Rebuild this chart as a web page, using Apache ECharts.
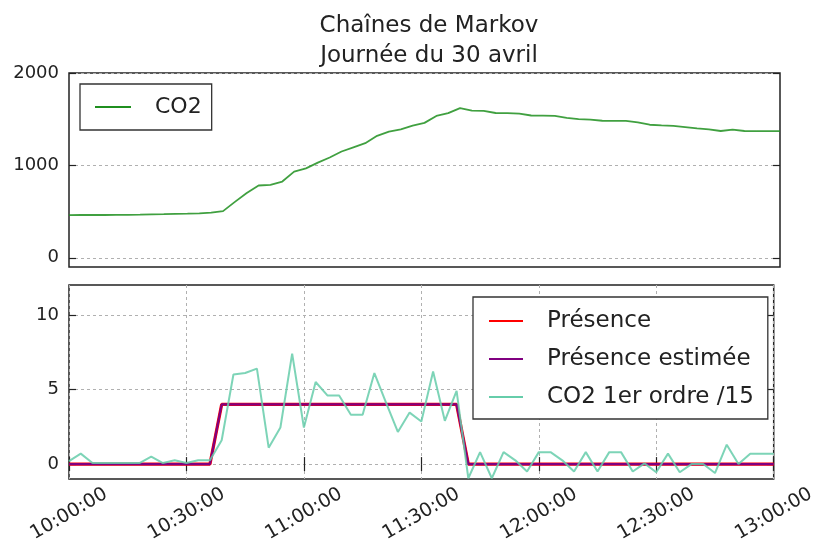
<!DOCTYPE html>
<html>
<head>
<meta charset="utf-8">
<script src="https://cdn.jsdelivr.net/npm/echarts@6/dist/echarts.min.js"></script>
<style>
  html, body { margin: 0; padding: 0; background: #fff; }
  #chart { width: 818px; height: 547px; }
</style>
</head>
<body>
<div id="chart"></div>
<script>
  // heures (pas de 3 min)
  const times = [
    '10:00:00', '10:03:00', '10:06:00', '10:09:00', '10:12:00', '10:15:00', '10:18:00', '10:21:00', '10:24:00', '10:27:00',
    '10:30:00', '10:33:00', '10:36:00', '10:39:00', '10:42:00', '10:45:00', '10:48:00', '10:51:00', '10:54:00', '10:57:00',
    '11:00:00', '11:03:00', '11:06:00', '11:09:00', '11:12:00', '11:15:00', '11:18:00', '11:21:00', '11:24:00', '11:27:00',
    '11:30:00', '11:33:00', '11:36:00', '11:39:00', '11:42:00', '11:45:00', '11:48:00', '11:51:00', '11:54:00', '11:57:00',
    '12:00:00', '12:03:00', '12:06:00', '12:09:00', '12:12:00', '12:15:00', '12:18:00', '12:21:00', '12:24:00', '12:27:00',
    '12:30:00', '12:33:00', '12:36:00', '12:39:00', '12:42:00', '12:45:00', '12:48:00', '12:51:00', '12:54:00', '12:57:00',
    '13:00:00'
  ]
  const co2 = [
    462, 463, 463, 463, 464, 465, 466, 470, 472, 475,
    477, 480, 488, 505, 605, 700, 782, 790, 825, 932,
    968, 1030, 1085, 1150, 1195, 1240, 1320, 1365, 1390, 1430,
    1460, 1535, 1565, 1620, 1592, 1590, 1567, 1566, 1560, 1540,
    1538, 1536, 1515, 1500, 1495, 1483, 1482, 1482, 1465, 1440,
    1432, 1428, 1415, 1400, 1390, 1372, 1386, 1372, 1371, 1370,
    1370
  ]
  const presence = [
    0, 0, 0, 0, 0, 0, 0, 0, 0, 0,
    0, 0, 0, 4, 4, 4, 4, 4, 4, 4,
    4, 4, 4, 4, 4, 4, 4, 4, 4, 4,
    4, 4, 4, 4, 0, 0, 0, 0, 0, 0,
    0, 0, 0, 0, 0, 0, 0, 0, 0, 0,
    0, 0, 0, 0, 0, 0, 0, 0, 0, 0,
    0
  ]
  const presenceEst = [
    0, 0, 0, 0, 0, 0, 0, 0, 0, 0,
    0, 0, 0, 4, 4, 4, 4, 4, 4, 4,
    4, 4, 4, 4, 4, 4, 4, 4, 4, 4,
    4, 4, 4, 4, 0, 0, 0, 0, 0, 0,
    0, 0, 0, 0, 0, 0, 0, 0, 0, 0,
    0, 0, 0, 0, 0, 0, 0, 0, 0, 0,
    0
  ]
  const co2Deriv = [
    0.2, 0.7, 0.07, 0.07, 0.07, 0.07, 0.07, 0.5, 0.07, 0.25,
    0.07, 0.25, 0.25, 1.6, 6.0, 6.1, 6.4, 1.1, 2.45, 7.4,
    2.45, 5.5, 4.6, 4.6, 3.3, 3.3, 6.1, 4.1, 2.15, 3.45,
    2.85, 6.2, 2.9, 4.9, -0.95, 0.8, -0.95, 0.8, 0.25, -0.5,
    0.8, 0.8, 0.25, -0.5, 0.8, -0.5, 0.8, 0.8, -0.5, 0.05,
    -0.55, 0.7, -0.55, 0, 0, -0.6, 1.3, 0, 0.7, 0.7,
    0.7
  ]
  const co2Ticks = [0, 1000, 2000]
  const presTicks = [0, 5, 10]

  const font = 'DejaVu Sans'
  const txt = '#222'
  const dashed = { lineStyle: { type: [3, 3], color: '#b0b0b0', width: 1 } }

  const chart = echarts.init(document.getElementById('chart'))

  const yBase = (grid, min, max, ticks, pos, labels, split) => ({
    gridIndex: grid,
    type: 'value',
    position: pos,
    min: min,
    max: max,
    axisLine: { show: false },
    axisTick: { show: true, inside: true, length: 7, customValues: ticks, lineStyle: { color: '#222', width: 1.2 } },
    axisLabel: {
      show: labels, customValues: ticks, margin: 10, fontFamily: font, fontSize: 18, color: txt,
      formatter: v => String(v)
    },
    splitLine: { show: split, ...dashed }
  })

  const option = {
    animation: false,
    title: {
      text: 'Chaînes de Markov\nJournée du 30 avril',
      left: 424,
      top: 6,
      textAlign: 'center',
      textStyle: { fontFamily: font, fontSize: 23, fontWeight: 'normal', color: txt, lineHeight: 30 }
    },
    grid: [
      { left: 69, right: 38, top: 73, height: 194, show: true, borderColor: '#222', borderWidth: 1.5, backgroundColor: 'transparent' },
      { left: 69, right: 38, top: 285, height: 194, show: true, borderColor: '#222', borderWidth: 1.5, backgroundColor: 'transparent' }
    ],
    legend: [
      {
        data: ['CO2'],
        left: 80, top: 84,
        orient: 'vertical',
        icon: 'rect',
        backgroundColor: '#fff',
        borderColor: '#333', borderWidth: 1.3, borderRadius: 0,
        padding: [11, 10, 11, 15],
        itemWidth: 36, itemHeight: 2,
        textStyle: { fontFamily: font, fontSize: 22, color: txt, lineHeight: 24, padding: [0, 0, 0, 19] }
      },
      {
        data: ['Présence', 'Présence estimée', 'CO2 1er ordre /15'],
        left: 473, top: 297,
        orient: 'vertical',
        icon: 'rect',
        backgroundColor: '#fff',
        borderColor: '#333', borderWidth: 1.3, borderRadius: 0,
        padding: [12, 14, 10, 16],
        itemGap: 14,
        itemWidth: 34, itemHeight: 2,
        textStyle: { fontFamily: font, fontSize: 23, color: txt, lineHeight: 24, padding: [0, 0, 0, 19] }
      }
    ],
    xAxis: [
      {
        gridIndex: 0, type: 'category', data: times, boundaryGap: false,
        axisLine: { show: false }, axisTick: { show: false }, axisLabel: { show: false }, splitLine: { show: false }
      },
      {
        gridIndex: 1, type: 'category', data: times, boundaryGap: false, position: 'bottom',
        axisLine: { show: false },
        axisTick: { show: true, inside: true, length: 7, interval: 9, lineStyle: { color: '#222', width: 1.2 } },
        axisLabel: {
          interval: 9, rotate: 30, align: 'center', verticalAlign: 'middle', margin: 35,
          fontFamily: font, fontSize: 19, color: txt
        },
        splitLine: { show: true, interval: 9, ...dashed }
      },
      {
        gridIndex: 1, type: 'category', data: times, boundaryGap: false, position: 'top',
        axisLine: { show: false },
        axisTick: { show: true, inside: true, length: 7, interval: 9, lineStyle: { color: '#222', width: 1.2 } },
        axisLabel: { show: false }, splitLine: { show: false }
      }
    ],
    yAxis: [
      yBase(0, -100, 2000, co2Ticks, 'left', true, true),
      yBase(0, -100, 2000, co2Ticks, 'right', false, false),
      yBase(1, -1, 12, presTicks, 'left', true, true),
      yBase(1, -1, 12, presTicks, 'right', false, false)
    ],
    series: [
      {
        name: 'CO2', type: 'line', xAxisIndex: 0, yAxisIndex: 0,
        data: co2, symbol: 'none',
        lineStyle: { color: '#1f8f1f', width: 1.8, opacity: 0.85 }, itemStyle: { color: '#1f8f1f' }
      },
      {
        name: 'Présence', type: 'line', xAxisIndex: 1, yAxisIndex: 2,
        data: presence, symbol: 'none',
        lineStyle: { color: '#ff0000', width: 3.2 }, itemStyle: { color: '#ff0000' }
      },
      {
        name: 'Présence estimée', type: 'line', xAxisIndex: 1, yAxisIndex: 2,
        data: presenceEst, symbol: 'none',
        lineStyle: { color: '#800080', width: 2.2 }, itemStyle: { color: '#800080' }
      },
      {
        name: 'CO2 1er ordre /15', type: 'line', xAxisIndex: 1, yAxisIndex: 2,
        data: co2Deriv, symbol: 'none',
        lineStyle: { color: '#66cdaa', width: 2, opacity: 0.85 }, itemStyle: { color: '#66cdaa' }
      }
    ]
  }
  chart.setOption(option)
</script>
</body>
</html>
